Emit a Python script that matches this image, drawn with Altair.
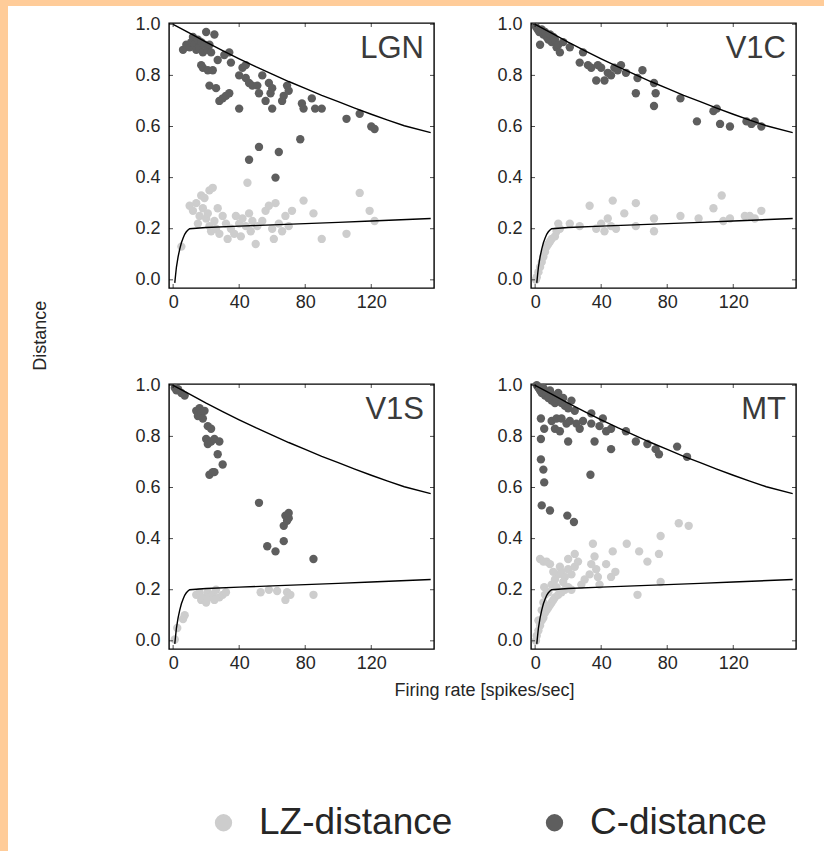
import altair as alt
import pandas as pd

ORANGE = "#FFCC99"
DARK = "#5E5E5E"
LIGHT = "#CDCDCD"
FONT = "Liberation Sans"
TXT = "#262626"

W, H = 265, 265

series_names = ["LZ-distance", "C-distance"]
panel_names = ["LGN", "V1C", "V1S", "MT"]
x_ticks = [0, 40, 80, 120]
y_ticks = [0.0, 0.2, 0.4, 0.6, 0.8, 1.0]

# ---------------- LGN ----------------
lgn_c_x = [6, 8, 10, 11, 12, 13, 14, 15, 16, 17, 18, 19, 20, 21, 22, 23, 25, 17, 18, 21, 22, 26, 24, 27,
           28, 30, 32, 34, 31, 34, 35, 40, 40, 42, 44, 44, 46, 48, 51, 52, 54, 56, 58, 59, 60, 60, 66, 67,
           69, 70, 78, 79, 84, 86, 90, 105, 113, 120, 122, 46, 52, 64, 62, 77]
lgn_c_y = [0.90, 0.92, 0.91, 0.93, 0.95, 0.92, 0.90, 0.94, 0.91, 0.93, 0.89, 0.92, 0.97, 0.90, 0.92, 0.89,
           0.96, 0.84, 0.83, 0.82, 0.76, 0.75, 0.82, 0.86, 0.70, 0.71, 0.72, 0.73, 0.88, 0.89, 0.85, 0.67,
           0.80, 0.83, 0.84, 0.79, 0.77, 0.76, 0.76, 0.73, 0.80, 0.70, 0.77, 0.73, 0.75, 0.67, 0.70, 0.72,
           0.76, 0.74, 0.69, 0.67, 0.71, 0.67, 0.67, 0.63, 0.65, 0.60, 0.59, 0.47, 0.52, 0.50, 0.40, 0.55]
lgn_lz_x = [5, 10, 12, 14, 15, 16, 17, 18, 19, 20, 21, 22, 22, 24, 23, 25, 26, 27, 28, 30, 32, 33, 35, 37,
            38, 40, 41, 42, 44, 45, 46, 47, 48, 50, 51, 54, 56, 58, 60, 61, 62, 64, 66, 68, 70, 72, 79, 85,
            90, 105, 113, 119, 122]
lgn_lz_y = [0.13, 0.29, 0.27, 0.30, 0.22, 0.25, 0.33, 0.28, 0.32, 0.24, 0.26, 0.21, 0.35, 0.36, 0.19, 0.23,
            0.20, 0.28, 0.18, 0.25, 0.22, 0.16, 0.20, 0.18, 0.25, 0.22, 0.17, 0.24, 0.21, 0.38, 0.26, 0.19,
            0.23, 0.14, 0.21, 0.23, 0.27, 0.29, 0.20, 0.16, 0.30, 0.22, 0.19, 0.25, 0.21, 0.27, 0.31, 0.26,
            0.16, 0.18, 0.34, 0.27, 0.23]

# ---------------- V1C ----------------
v1c_c_x = [0.5, 1.5, 2.5, 3, 4, 5, 6, 7, 8, 9, 10, 11, 12, 13, 14, 15, 17, 21, 27, 29, 32, 34, 37, 38,
           40, 42, 44, 46, 48, 50, 52, 55, 61, 62, 65, 72, 73, 72, 88, 98, 108, 110, 112, 118, 128, 131,
           133, 137]
v1c_c_y = [0.99, 0.98, 0.97, 0.92, 0.98, 0.96, 0.97, 0.95, 0.94, 0.96, 0.93, 0.95, 0.94, 0.91, 0.92, 0.89,
           0.93, 0.91, 0.85, 0.89, 0.84, 0.83, 0.78, 0.84, 0.83, 0.78, 0.81, 0.80, 0.83, 0.82, 0.84, 0.81,
           0.73, 0.79, 0.82, 0.68, 0.73, 0.77, 0.71, 0.62, 0.66, 0.67, 0.61, 0.60, 0.62, 0.61, 0.62, 0.60]
v1c_lz_x = [0.5, 1, 2, 3, 4, 5, 6, 7, 8, 9, 10, 12, 13, 15, 14, 21, 27, 33, 37, 40, 42, 44, 46, 47, 49,
            54, 61, 61, 72, 72, 88, 99, 108, 113, 114, 118, 127, 130, 133, 137]
v1c_lz_y = [0.00, 0.01, 0.03, 0.05, 0.07, 0.09, 0.11, 0.13, 0.14, 0.15, 0.16, 0.17, 0.19, 0.20, 0.22, 0.22,
            0.21, 0.29, 0.20, 0.22, 0.19, 0.24, 0.21, 0.31, 0.20, 0.26, 0.30, 0.21, 0.24, 0.19, 0.25, 0.24,
            0.28, 0.33, 0.23, 0.24, 0.25, 0.25, 0.24, 0.27]

# ---------------- V1S ----------------
v1s_c_x = [1, 2, 3, 5, 7, 14, 15, 16, 17, 18, 19, 21, 23, 20, 21, 23, 25, 28, 27, 22, 24, 25, 30, 52,
           57, 62, 67, 67, 68, 69, 70, 70, 85]
v1s_c_y = [0.99, 0.98, 0.985, 0.97, 0.96, 0.90, 0.88, 0.91, 0.89, 0.87, 0.90, 0.84, 0.83, 0.79, 0.77, 0.78,
           0.79, 0.78, 0.73, 0.65, 0.66, 0.66, 0.69, 0.54, 0.37, 0.35, 0.39, 0.45, 0.49, 0.47, 0.48, 0.50,
           0.32]
v1s_lz_x = [1, 2.5, 6, 7, 14, 16, 17, 18, 20, 21, 22, 24, 25, 26, 28, 30, 32, 53, 58, 63, 68, 69, 71, 85]
v1s_lz_y = [0.005, 0.05, 0.085, 0.10, 0.18, 0.19, 0.16, 0.17, 0.15, 0.19, 0.17, 0.18, 0.16, 0.20, 0.17,
            0.18, 0.19, 0.19, 0.20, 0.195, 0.16, 0.19, 0.18, 0.18]

# ---------------- MT ----------------
mt_c_x = [1, 2, 3, 4, 5, 6, 7, 8, 9, 10, 11, 12, 13, 14, 16, 17, 18, 20, 22, 24, 3.5, 10, 13, 16, 19,
          21, 5.5, 12, 15, 25, 27, 29, 34, 34, 41, 39, 43, 46, 36, 46, 55, 61, 68, 73, 75, 86, 92, 3.5,
          20, 3.5, 5, 5.5, 4, 9, 19.5, 23.5, 33.5]
mt_c_y = [1.00, 0.99, 0.98, 0.97, 0.99, 0.96, 0.97, 0.95, 0.98, 0.94, 0.96, 0.93, 0.95, 0.97, 0.93, 0.95,
          0.92, 0.91, 0.94, 0.90, 0.87, 0.86, 0.87, 0.87, 0.85, 0.86, 0.83, 0.83, 0.82, 0.85, 0.83, 0.86,
          0.89, 0.85, 0.87, 0.84, 0.82, 0.83, 0.78, 0.75, 0.82, 0.78, 0.77, 0.75, 0.73, 0.76, 0.72, 0.79,
          0.78, 0.71, 0.67, 0.62, 0.53, 0.51, 0.49, 0.465, 0.65]
mt_lz_x = [0.5, 1, 2, 3, 4, 5, 6, 7, 8, 9, 10, 11, 12, 14, 16, 18, 20, 22, 2, 4, 5, 6, 8, 10, 12, 14, 16,
           18, 20, 22, 24, 13, 17, 3, 5, 7, 9, 5.5, 20, 24, 35, 33, 34, 36, 37, 38, 39, 43, 46, 48.6, 47,
           55.5, 63, 68, 75, 76, 62, 76, 87, 93, 28, 30, 26, 11, 15]
mt_lz_y = [0.00, 0.02, 0.04, 0.06, 0.08, 0.09, 0.11, 0.12, 0.13, 0.14, 0.15, 0.16, 0.17, 0.18, 0.19, 0.20,
           0.21, 0.20, 0.08, 0.12, 0.15, 0.18, 0.19, 0.22, 0.24, 0.26, 0.27, 0.25, 0.28, 0.26, 0.29, 0.21,
           0.23, 0.32, 0.31, 0.31, 0.30, 0.21, 0.32, 0.34, 0.38, 0.26, 0.30, 0.33, 0.28, 0.25, 0.22, 0.30,
           0.25, 0.27, 0.35, 0.38, 0.35, 0.31, 0.34, 0.41, 0.18, 0.23, 0.46, 0.45, 0.22, 0.24, 0.31, 0.27,
           0.29]

# ---------------- reference curves (same in every panel) ----------------
upper_x = [0, 10, 20, 30, 40, 50, 60, 70, 80, 90, 100, 110, 120, 130, 140, 156]
upper_y = [1.0, 0.965, 0.93, 0.897, 0.865, 0.834, 0.805, 0.776, 0.749, 0.722, 0.697, 0.672, 0.648,
           0.625, 0.603, 0.576]
lower_x = [1, 1.5, 2, 3, 4, 5, 6, 7, 8, 9, 10, 20, 40, 60, 80, 100, 120, 156]
lower_y = [-0.012, 0.02, 0.05, 0.09, 0.12, 0.145, 0.163, 0.178, 0.188, 0.195, 0.2, 0.205, 0.21, 0.215,
           0.22, 0.225, 0.23, 0.24]

panel_data = {
    "LGN": (lgn_c_x, lgn_c_y, lgn_lz_x, lgn_lz_y),
    "V1C": (v1c_c_x, v1c_c_y, v1c_lz_x, v1c_lz_y),
    "V1S": (v1s_c_x, v1s_c_y, v1s_lz_x, v1s_lz_y),
    "MT": (mt_c_x, mt_c_y, mt_lz_x, mt_lz_y),
}

curves_df = pd.DataFrame({
    "rate": upper_x + lower_x,
    "dist": upper_y + lower_y,
    "curve": ["upper"] * len(upper_x) + ["lower"] * len(lower_x),
})
xt_df = pd.DataFrame({"v": x_ticks})
yt_df = pd.DataFrame({"v": y_ticks})

XS = alt.Scale(domain=[-2.5, 158], nice=False, zero=False)
YS = alt.Scale(domain=[-0.032, 1.005], nice=False, zero=False)
XA = alt.Axis(values=x_ticks, title=None, grid=False, domain=False, ticks=False, tickSize=0,
              labelFontSize=18, labelFont=FONT, labelColor=TXT, labelPadding=5, labelFlush=False)
YA = alt.Axis(values=y_ticks, format=".1f", title=None, grid=False, domain=False, ticks=False, tickSize=0,
              labelFontSize=18, labelFont=FONT, labelColor=TXT, labelPadding=9, labelFlush=False)
CS = alt.Scale(domain=series_names, range=[LIGHT, DARK])


def make_panel(name):
    c_x, c_y, lz_x, lz_y = panel_data[name]
    df = pd.DataFrame({
        "rate": lz_x + c_x,
        "dist": lz_y + c_y,
        "series": [series_names[0]] * len(lz_x) + [series_names[1]] * len(c_x),
        "ord": [0] * len(lz_x) + [1] * len(c_x),
    })
    pts = alt.Chart(df).mark_circle(size=70, opacity=1).encode(
        x=alt.X("rate:Q", scale=XS, axis=XA),
        y=alt.Y("dist:Q", scale=YS, axis=YA),
        color=alt.Color("series:N", scale=CS, legend=alt.Legend(title=None)),
        order=alt.Order("ord:Q"),
    )
    lines = alt.Chart(curves_df).mark_line(color="black", strokeWidth=1.4).encode(
        x=alt.X("rate:Q", scale=XS, axis=XA),
        y=alt.Y("dist:Q", scale=YS, axis=YA),
        detail="curve:N",
    )
    # small inward frame ticks
    tick_layers = []
    for ypos in (2, H - 2):
        tick_layers.append(alt.Chart(xt_df).mark_tick(
            orient="vertical", size=4, thickness=1, color="black").encode(
            x=alt.X("v:Q", scale=XS, axis=XA), y=alt.value(ypos)))
    for xpos in (2, W - 2):
        tick_layers.append(alt.Chart(yt_df).mark_tick(
            orient="horizontal", size=4, thickness=1, color="black").encode(
            y=alt.Y("v:Q", scale=YS, axis=YA), x=alt.value(xpos)))
    lab = alt.Chart(pd.DataFrame({"name": [name]})).mark_text(
        align="right", baseline="middle", fontSize=31, font=FONT, color="#3a3a3a"
    ).encode(x=alt.value(W - 10), y=alt.value(26), text="name:N")
    return alt.layer(pts, lines, *tick_layers, lab).properties(width=W, height=H)


row1 = alt.hconcat(make_panel("LGN"), make_panel("V1C"), spacing=61)
row2 = alt.hconcat(make_panel("V1S"), make_panel("MT"), spacing=61)
grid = alt.vconcat(row1, row2, spacing=63).properties(
    title=alt.TitleParams("Distance", orient="left", anchor="middle", offset=84, fontSize=18,
                          dx=8, font=FONT, fontWeight="normal", color=TXT)
)
body = alt.vconcat(grid).properties(
    title=alt.TitleParams("Firing rate [spikes/sec]", orient="bottom", anchor="middle", offset=9,
                          dx=70, fontSize=18, font=FONT, fontWeight="normal", color=TXT)
)

TOP_H, LEFT_W, ORIGIN = 13, 32, 23
bdf = pd.DataFrame({"k": [0]})
top_strip = alt.layer(
    alt.Chart(bdf).mark_rect(color=ORANGE).encode(
        x=alt.value(0), x2=alt.value(824), y=alt.value(0), y2=alt.value(6)),
    alt.Chart(bdf).mark_rect(color=ORANGE).encode(
        x=alt.value(0), x2=alt.value(8), y=alt.value(0), y2=alt.value(TOP_H)),
).properties(width=824, height=TOP_H, view=alt.ViewBackground(stroke="transparent", strokeWidth=0))

left_strip = alt.Chart(bdf).mark_rect(color=ORANGE).encode(
    x=alt.value(0), x2=alt.value(8), y=alt.value(TOP_H - ORIGIN), y2=alt.value(851 - ORIGIN)
).properties(width=LEFT_W, height=700,
             view=alt.ViewBackground(stroke="transparent", strokeWidth=0))

chart = alt.vconcat(
    top_strip,
    alt.hconcat(left_strip, body, spacing=0),
    spacing=0,
).properties(
    padding=0, background="white"
).configure(
    padding=0
).configure_view(
    stroke="black", strokeWidth=1.4
).configure_legend(
    orient="none", legendX=205, legendY=804, direction="horizontal",
    symbolType="circle", symbolSize=300, symbolStrokeWidth=0, symbolOpacity=1,
    labelFontSize=37, labelFont=FONT, labelColor=TXT, labelOffset=17, columnPadding=83,
    padding=0, labelLimit=400
)

chart.save("out.html", embed_options={"renderer": "svg", "actions": False})
